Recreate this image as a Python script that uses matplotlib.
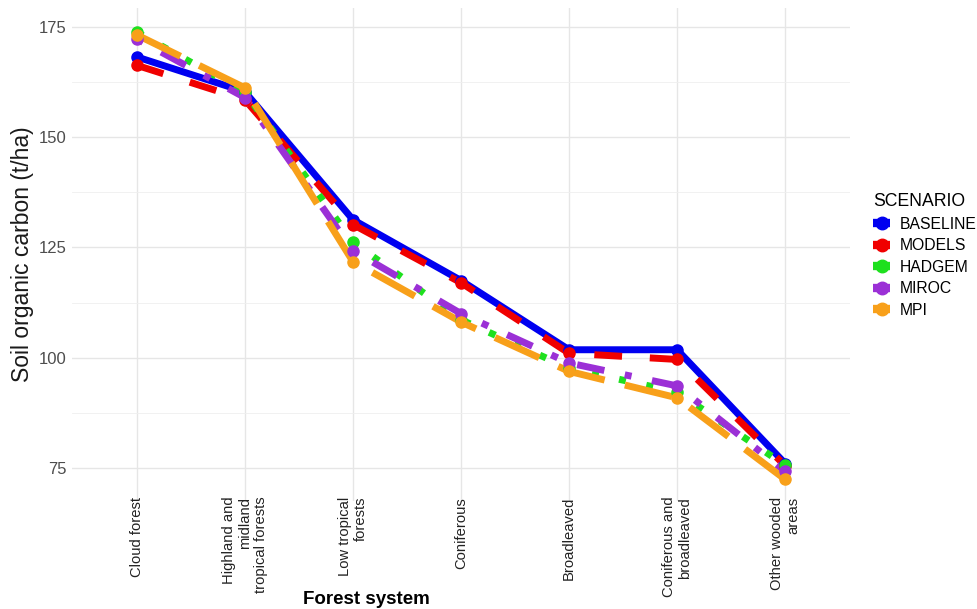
import matplotlib.pyplot as plt
import numpy as np
from matplotlib.lines import Line2D

plt.rcParams["font.family"] = ["Liberation Sans", "DejaVu Sans"]

forests = [
    "Cloud forest",
    "Highland and\nmidland\ntropical forests",
    "Low tropical\nforests",
    "Coniferous",
    "Broadleaved",
    "Coniferous and\nbroadleaved",
    "Other wooded\nareas",
]

baseline = [168.2, 160.3, 131.3, 117.5, 101.8, 101.8, 76.0]
models = [166.3, 158.5, 130.2, 117.0, 101.0, 99.6, 75.5]
hadgem = [173.8, 160.2, 126.2, 108.6, 97.6, 92.2, 75.6]
miroc = [172.3, 159.0, 124.3, 110.0, 98.8, 93.6, 74.2]
mpi = [173.2, 161.2, 121.8, 108.1, 96.9, 90.9, 72.4]

scenarios = ["BASELINE", "MODELS", "HADGEM", "MIROC", "MPI"]
series = [baseline, models, hadgem, miroc, mpi]
colors = ["#0000f0", "#f00000", "#1ee01e", "#9b30d6", "#f8a01a"]
dashes = [None, (4, 4), (1, 3), (1, 3, 4, 3), (7, 3)]

fig = plt.figure(figsize=(9.78, 6.09), dpi=100)
ax = fig.add_axes([72 / 978, 1 - 501 / 609, (850 - 72) / 978, (501 - 8) / 609])

x = np.arange(1, len(forests) + 1)
lw = 5
for vals, c, d in zip(series, colors, dashes):
    if d is None:
        ax.plot(x, vals, color=c, lw=lw, solid_capstyle="butt")
    else:
        ax.plot(x, vals, color=c, lw=lw, dashes=d, dash_capstyle="butt")
for vals, c in zip(series, colors):
    ax.plot(x, vals, color=c, lw=0, marker="o", ms=8)

ax.set_xlim(0.4, 7.6)
ax.set_ylim(67.5, 179.3)
ax.set_yticks([75, 100, 125, 150, 175])
ax.set_yticks([87.5, 112.5, 137.5, 162.5], minor=True)
ax.set_xticks(x)
ax.set_xticklabels(forests, rotation=90, ha="center", va="top",
                   multialignment="right", fontsize=10.6, color="#222222",
                   linespacing=1.15)
ax.tick_params(axis="y", labelsize=12, labelcolor="#4d4d4d", length=0, pad=4)
ax.tick_params(axis="y", which="minor", length=0)
ax.tick_params(axis="x", length=0, pad=-3)

ax.grid(True, which="major", color="#e6e6e6", lw=1.0)
ax.grid(True, which="minor", axis="y", color="#efefef", lw=0.6)
ax.set_axisbelow(True)
for s in ax.spines.values():
    s.set_visible(False)

ax.set_ylabel("Soil organic carbon (t/ha)", fontsize=16.5, color="#1a1a1a", labelpad=3)
fig.text(366 / 978, 1 - 600 / 609, "Forest system", ha="center", va="center",
         fontsize=13.5, fontweight="bold", family=["Liberation Sans Narrow", "Liberation Sans"])

handles = [Line2D([0], [0], color=c, lw=6, marker="o", ms=9, solid_capstyle="butt")
           for c in colors]
leg = fig.legend(handles, scenarios, loc="upper left", bbox_to_anchor=(862 / 978, 1 - 182 / 609),
                 frameon=False, title="SCENARIO", fontsize=11.3, title_fontsize=12.7,
                 handlelength=1.1, handletextpad=0.6, labelspacing=0.42, alignment="left",
                 borderpad=0.2)

fig.savefig("out.png", dpi=100)
